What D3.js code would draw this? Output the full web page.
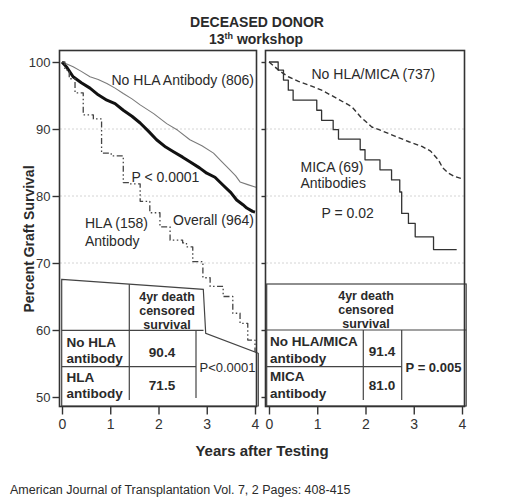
<!DOCTYPE html>
<html><head><meta charset="utf-8">
<script src="https://cdn.jsdelivr.net/npm/d3@7"></script>
<style>
body{margin:0;background:#fff;}
svg{display:block;font-family:"Liberation Sans",Arial,Helvetica,sans-serif;}
</style></head>
<body><svg id="c" width="531" height="502"></svg>
<script>
// ---- data (years after testing, percent graft survival) ----
const noHlaYears   = [0,0.1,0.23,0.4,0.58,0.75,0.93,1.1,1.27,1.45,1.62,1.9,2.17,2.4,2.65,2.9,3.14,3.3,3.48,3.6,3.69,3.85,4.02];
const noHlaSurv    = [100,99.7,99.3,98.6,97.8,97.4,96.8,96.1,95.3,94.5,93.6,92.3,90.8,89.8,88.4,87.5,86.4,85.2,83.9,83.0,82.1,81.7,81.3];
const overallYears = [0,0.1,0.23,0.4,0.58,0.75,0.93,1.1,1.27,1.45,1.62,1.8,1.96,2.15,2.31,2.5,2.65,2.85,3.0,3.17,3.34,3.5,3.62,3.75,3.83,3.95,4.0];
const overallSurv  = [100,99.2,97.8,96.9,96.1,95.1,94.3,93.8,92.8,91.9,90.9,89.6,88.4,87.3,86.6,85.8,85.1,84.2,83.4,82.8,81.6,80.5,79.4,78.7,78.2,77.7,77.6];
const hlaYears     = [0,0.06,0.15,0.27,0.44,0.65,0.82,1.02,1.27,1.41,1.62,1.82,2.03,2.24,2.5,2.58,2.71,2.92,3.07,3.34,3.54,3.69,3.85,4.0];
const hlaSurv      = [100,98.8,97.5,95.4,92.1,91.5,86.4,86.0,82.0,81.8,79.2,77.5,75.4,73.4,73.0,72.4,70.2,67.8,66.5,65.0,62.5,61.0,58.5,56.0];
const noMicaYears  = [0,0.1,0.23,0.4,0.61,0.85,1.09,1.4,1.72,1.9,2.13,2.35,2.62,2.9,3.17,3.35,3.51,3.6,3.72,3.85,3.99];
const noMicaSurv   = [100,99.4,98.6,97.8,97.1,96.5,95.8,94.6,93.3,91.8,90.3,89.7,88.9,88.1,87.4,86.7,85.4,84.2,83.4,82.9,82.6];
const micaYears    = [0,0.19,0.30,0.40,0.50,0.99,1.09,1.33,1.44,1.89,1.99,2.30,2.54,2.71,2.75,2.89,3.03,3.41,3.89];
const micaSurv     = [100,98.8,97.3,95.8,94.3,92.8,91.3,89.9,88.5,86.9,85.4,83.9,82.4,80.6,77.4,75.9,73.9,72.0,72.0];
const yTicks = [50,60,70,80,90,100];
const xTicks = [0,1,2,3,4];
const gridVals = [70,80,90];
const leftRowLabels = [["No HLA","antibody"],["HLA","antibody"]];
const leftValues = ["90.4","71.5"];
const leftP = "P<0.0001";
const rightRowLabels = [["No HLA/MICA","antibody"],["MICA","antibody"]];
const rightValues = ["91.4","81.0"];
const rightP = "P = 0.005";
const headerLines = ["4yr death","censored","survival"];

const svg = d3.select("#c");
const ink = "#2a2a2a";
const y = d3.scaleLinear().domain([50,100]).range([397,62]);
const xL = d3.scaleLinear().domain([0,4]).range([62,255]);
const xR = d3.scaleLinear().domain([0,4]).range([269,462]);

// titles
svg.append("text").attr("x",257).attr("y",26.5).attr("text-anchor","middle")
  .attr("font-size",14).attr("font-weight","bold").attr("fill",ink).text("DECEASED DONOR");
const t2 = svg.append("text").attr("x",256).attr("y",43.5).attr("text-anchor","middle")
  .attr("font-size",14).attr("font-weight","bold").attr("fill",ink);
t2.append("tspan").text("13");
t2.append("tspan").attr("font-size",9).attr("dy",-5).text("th");
t2.append("tspan").attr("dy",5).text(" workshop");

// grid
function grid(x0,x1){
  svg.append("g").selectAll("line").data(gridVals).join("line")
    .attr("x1",x0).attr("x2",x1).attr("y1",d=>y(d)).attr("y2",d=>y(d))
    .attr("stroke","#d4d4d4").attr("stroke-width",1).attr("stroke-dasharray","2,2");
}
grid(60,256); grid(266,464);

// curves
function curve(xs, ys, xsc, style, stepped){
  const pts = xs.map((d,i)=>[d, ys[i]]);
  const line = d3.line().x(d=>xsc(d[0])).y(d=>y(d[1])).curve(stepped?d3.curveStepAfter:d3.curveLinear);
  const p = svg.append("path").attr("d",line(pts)).attr("fill","none").attr("stroke-linejoin","round");
  Object.entries(style).forEach(([k,v])=>p.attr(k,v));
}
curve(noHlaYears,noHlaSurv,xL,{stroke:"#7a7a7a","stroke-width":1.1},false);
curve(overallYears,overallSurv,xL,{stroke:"#111","stroke-width":3},false);
curve(hlaYears,hlaSurv,xL,{stroke:"#444","stroke-width":1.3,"stroke-dasharray":"6,2.5,1.5,2.5,1.5,2.5"},true);
curve(noMicaYears,noMicaSurv,xR,{stroke:"#333","stroke-width":1.4,"stroke-dasharray":"5,3"},false);
curve(micaYears,micaSurv,xR,{stroke:"#333","stroke-width":1.3},true);

// curve labels
function lab(x,yy,t,opt={}){
  const e = svg.append("text").attr("x",x).attr("y",yy).attr("font-size",opt.size||14)
    .attr("fill",ink).text(t);
  if(opt.anchor) e.attr("text-anchor",opt.anchor);
  if(opt.bold) e.attr("font-weight","bold");
  return e;
}
lab(111.5,84.5,"No HLA Antibody (806)");
lab(131.5,181.5,"P < 0.0001");
lab(173,225,"Overall (964)");
lab(85,228,"HLA (158)");
lab(85,246,"Antibody");
lab(311.5,78.5,"No HLA/MICA (737)");
lab(300.5,171.5,"MICA (69)");
lab(300.5,187.5,"Antibodies");
lab(321.5,217.5,"P = 0.02");

// left table (polygon)
const tl = svg.append("g").attr("stroke","#444").attr("stroke-width",1.2);
tl.append("path").attr("d","M61.7,279.3 L203.3,289.3 L205.7,333.3 L258.3,353.3 L258.3,406 L61.7,406 Z")
  .attr("fill","#fff");
tl.append("line").attr("x1",129.3).attr("x2",129.3).attr("y1",284.2).attr("y2",400);
tl.append("line").attr("x1",61.7).attr("x2",203.5).attr("y1",330.3).attr("y2",330.3);
tl.append("line").attr("x1",196).attr("x2",196).attr("y1",330.3).attr("y2",398);
tl.append("line").attr("x1",61.7).attr("x2",196).attr("y1",366.7).attr("y2",366.7);
headerLines.forEach((t,i)=>lab(167,300.5+i*14,t,{anchor:"middle",bold:true,size:12.5}));
leftRowLabels.forEach((r,i)=>{
  lab(66.5,346.5+i*35,r[0],{bold:true,size:13.5});
  lab(66.5,363+i*35,r[1],{bold:true,size:13.5});
  lab(162,356.5+i*33.5,leftValues[i],{anchor:"middle",bold:true,size:13.5});
});
lab(227.5,372,leftP,{anchor:"middle",size:13});

// right table
const tr = svg.append("g").attr("stroke","#444").attr("stroke-width",1.2);
tr.append("rect").attr("x",266.7).attr("y",284).attr("width",199.5).attr("height",122).attr("fill","#fff");
tr.append("line").attr("x1",266.7).attr("x2",466.2).attr("y1",330).attr("y2",330);
tr.append("line").attr("x1",363.3).attr("x2",363.3).attr("y1",330).attr("y2",400);
tr.append("line").attr("x1",401.7).attr("x2",401.7).attr("y1",330).attr("y2",400);
tr.append("line").attr("x1",266.7).attr("x2",401.7).attr("y1",366.7).attr("y2",366.7);
headerLines.forEach((t,i)=>lab(366,299.5+i*14,t,{anchor:"middle",bold:true,size:12.5}));
rightRowLabels.forEach((r,i)=>{
  lab(270,345.5+i*35.3,r[0],{bold:true,size:13.5});
  lab(270,363+i*35,r[1],{bold:true,size:13.5});
  lab(382,355.5+i*34.3,rightValues[i],{anchor:"middle",bold:true,size:13.5});
});
lab(433.5,372,rightP,{anchor:"middle",bold:true,size:13});

// frames
svg.append("rect").attr("x",59.5).attr("y",50.5).attr("width",197).attr("height",356)
  .attr("fill","none").attr("stroke","#333").attr("stroke-width",1.6);
svg.append("rect").attr("x",265.5).attr("y",50.5).attr("width",199).attr("height",356)
  .attr("fill","none").attr("stroke","#333").attr("stroke-width",1.6);

// axes
function styleAxis(g){
  g.select(".domain").remove();
  g.selectAll(".tick line").attr("stroke","#333").attr("stroke-width",1.4);
  g.selectAll(".tick text").attr("fill","#333").attr("font-family","Liberation Sans, Arial, sans-serif");
}
svg.append("g").attr("transform","translate(59.5,0)")
  .call(d3.axisLeft(y).tickValues(yTicks).tickSize(7).tickPadding(2).tickFormat(d3.format("d")))
  .call(styleAxis).selectAll(".tick text").attr("font-size",13);
svg.append("g").attr("transform","translate(265.5,0)")
  .call(d3.axisLeft(y).tickValues(yTicks).tickSize(4).tickFormat(""))
  .call(styleAxis);
svg.append("g").attr("transform","translate(0,406.5)")
  .call(d3.axisBottom(xL).tickValues(xTicks).tickSize(8).tickPadding(5).tickFormat(d3.format("d")))
  .call(styleAxis).selectAll(".tick text").attr("font-size",14);
svg.append("g").attr("transform","translate(0,406.5)")
  .call(d3.axisBottom(xR).tickValues(xTicks).tickSize(8).tickPadding(5).tickFormat(d3.format("d")))
  .call(styleAxis).selectAll(".tick text").attr("font-size",14);

// axis titles
lab(262,456,"Years after Testing",{anchor:"middle",bold:true,size:15});
svg.append("text").attr("transform","translate(34,239) rotate(-90)").attr("text-anchor","middle")
  .attr("font-size",14).attr("font-weight","bold").attr("fill",ink).text("Percent Graft Survival");

// caption
lab(10,494,"American Journal of Transplantation Vol. 7, 2 Pages: 408-415",{size:12.5});
</script></body></html>
